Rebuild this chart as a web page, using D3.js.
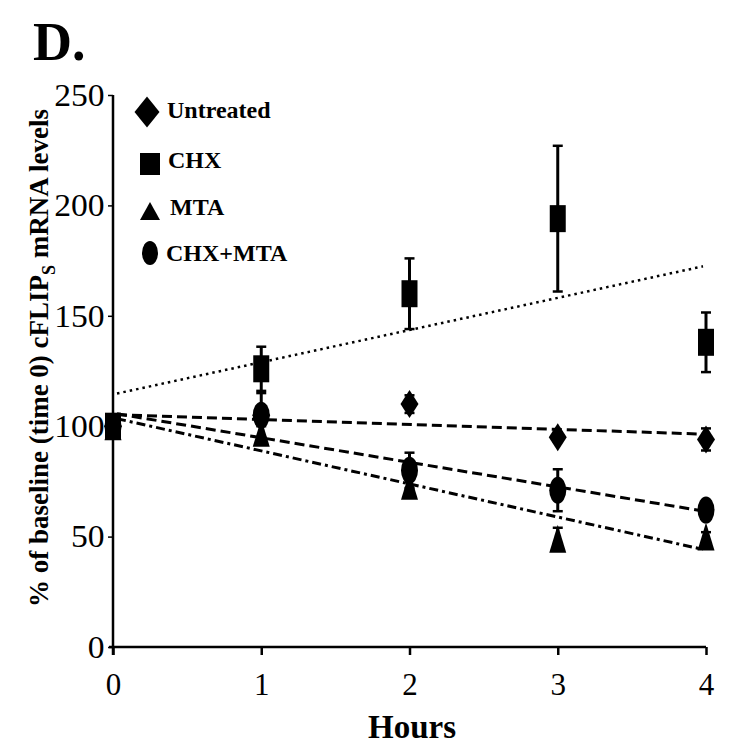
<!DOCTYPE html>
<html><head><meta charset="utf-8">
<script src="https://cdn.jsdelivr.net/npm/d3@7"></script>
<style>body{margin:0;background:#fff}svg{display:block}</style>
</head><body>
<script>
const hours = [0, 1, 2, 3, 4];
const xTicks = [0, 1, 2, 3, 4];
const yTicks = [0, 50, 100, 150, 200, 250];
const seriesNames = ["Untreated", "CHX", "MTA", "CHX+MTA"];
const untreated = [100, 105, 110, 95, 94];
const untreatedErr = [0, 3, 4, 2, 5];
const chx = [100, 126, 160, 194, 138];
const chxErr = [0, 10, 16, 33, 13.5];
const mta = [100, 97, 73, 49, 50];
const mtaErr = [0, 3, 4, 5, 2];
const chxMta = [100, 105, 80, 71, 62];
const chxMtaErr = [0, 10, 8, 9.5, 3];

const W = 729, H = 753;
const svg = d3.select("body").append("svg").attr("width", W).attr("height", H);
const x = d3.scaleLinear().domain([0, 4]).range([113, 706]);
const y = d3.scaleLinear().domain([0, 250]).range([647, 95]);
const serif = "'Liberation Serif', 'Times New Roman', serif";

// Title
svg.append("text").attr("x", 33).attr("y", 60).attr("font-family", serif)
  .attr("font-weight", "bold").attr("font-size", 54).text("D.");

// Axes
const yAxis = d3.axisLeft(y).tickValues(yTicks).tickSize(5).tickPadding(3);
const gy = svg.append("g").attr("transform", "translate(113,0)").call(yAxis);
gy.select(".domain").attr("stroke-width", 2.5).attr("d", "M0,95V655");
gy.selectAll(".tick line").attr("stroke-width", 1.5);
gy.selectAll("text").attr("font-family", serif).attr("font-size", 32).attr("fill", "#000")
  .attr("transform", "scale(1.05,1)");

const xAxis = d3.axisBottom(x).tickValues(xTicks).tickSize(8).tickPadding(18).tickFormat(d3.format("d"));
const gx = svg.append("g").attr("transform", "translate(0,647)").call(xAxis);
gx.select(".domain").attr("stroke-width", 2.5).attr("d", "M109,0H706");
gx.selectAll(".tick line").attr("stroke-width", 2.5);
gx.selectAll("text").attr("font-family", serif).attr("font-size", 31).attr("fill", "#000");

svg.append("text").attr("x", 412).attr("y", 738).attr("text-anchor", "middle")
  .attr("font-family", serif).attr("font-weight", "bold").attr("font-size", 33).text("Hours");

const yt = svg.append("text").attr("transform", "translate(48,358) rotate(-90)")
  .attr("text-anchor", "middle").attr("font-family", serif).attr("font-weight", "bold").attr("font-size", 27);
yt.append("tspan").text("% of baseline (time 0) cFLIP");
yt.append("tspan").attr("font-size", 18).attr("dy", 7).text("S");
yt.append("tspan").attr("dy", -7).text(" mRNA levels");

// Trend lines (least-squares fits of each series)
function fit(vals) {
  const mx = d3.mean(hours), my = d3.mean(vals);
  const b = d3.sum(hours, (h, i) => (h - mx) * (vals[i] - my)) / d3.sum(hours, h => (h - mx) ** 2);
  return [my - b * mx, b];
}
const trends = [
  {vals: chx, dash: "2.5,4", w: 2.5},
  {vals: untreated, dash: "10,5", w: 3},
  {vals: chxMta, dash: "10,5", w: 3},
  {vals: mta, dash: "9,4,3,4", w: 3}
];
trends.forEach(t => {
  const [a, b] = fit(t.vals);
  svg.append("line").attr("x1", x(0) + 4).attr("x2", x(4) - 3)
    .attr("y1", y(a)).attr("y2", y(a + b * 4))
    .attr("stroke", "#000").attr("stroke-width", t.w).attr("stroke-dasharray", t.dash);
});

// Error bars
function errBars(vals, errs) {
  vals.forEach((v, i) => {
    if (!errs[i]) return;
    const cx = x(hours[i]);
    svg.append("line").attr("x1", cx).attr("x2", cx).attr("y1", y(v + errs[i])).attr("y2", y(v - errs[i]))
      .attr("stroke", "#000").attr("stroke-width", 3);
    [v + errs[i], v - errs[i]].forEach(e => svg.append("line").attr("x1", cx - 5).attr("x2", cx + 5)
      .attr("y1", y(e)).attr("y2", y(e)).attr("stroke", "#000").attr("stroke-width", 2.5));
  });
}
errBars(chx, chxErr); errBars(untreated, untreatedErr); errBars(chxMta, chxMtaErr); errBars(mta, mtaErr);

// Marker shapes
function marker(g, type, cx, cy, w, h) {
  if (type === "diamond") g.append("path").attr("d", `M${cx},${cy - h / 2}L${cx + w / 2},${cy}L${cx},${cy + h / 2}L${cx - w / 2},${cy}Z`);
  else if (type === "square") g.append("rect").attr("x", cx - w / 2).attr("y", cy - h / 2).attr("width", w).attr("height", h);
  else if (type === "triangle") g.append("path").attr("d", `M${cx},${cy - h / 2}L${cx + w / 2},${cy + h / 2}L${cx - w / 2},${cy + h / 2}Z`);
  else g.append("ellipse").attr("cx", cx).attr("cy", cy).attr("rx", w / 2).attr("ry", h / 2);
}
const mg = svg.append("g").attr("fill", "#000");
const seriesData = [
  {vals: mta, type: "triangle", w: 17, h: 28},
  {vals: chxMta, type: "circle", w: 17, h: 27},
  {vals: untreated, type: "diamond", w: 18, h: 28},
  {vals: chx, type: "square", w: 16, h: 27}
];
seriesData.forEach(s => s.vals.forEach((v, i) => marker(mg, s.type, x(hours[i]), y(v), s.w, s.h)));

// Legend
const legend = [
  {type: "diamond", cx: 147, cy: 112, w: 25, h: 31, tx: 167, ty: 118},
  {type: "square", cx: 150, cy: 164, w: 20, h: 22, tx: 168, ty: 168},
  {type: "triangle", cx: 150, cy: 211, w: 20, h: 18, tx: 170, ty: 215},
  {type: "circle", cx: 150, cy: 253, w: 16, h: 24, tx: 166, ty: 261}
];
legend.forEach((l, i) => {
  marker(mg, l.type, l.cx, l.cy, l.w, l.h);
  svg.append("text").attr("x", l.tx).attr("y", l.ty).attr("font-family", serif)
    .attr("font-weight", "bold").attr("font-size", 24).text(seriesNames[i]);
});
</script>
</body></html>
